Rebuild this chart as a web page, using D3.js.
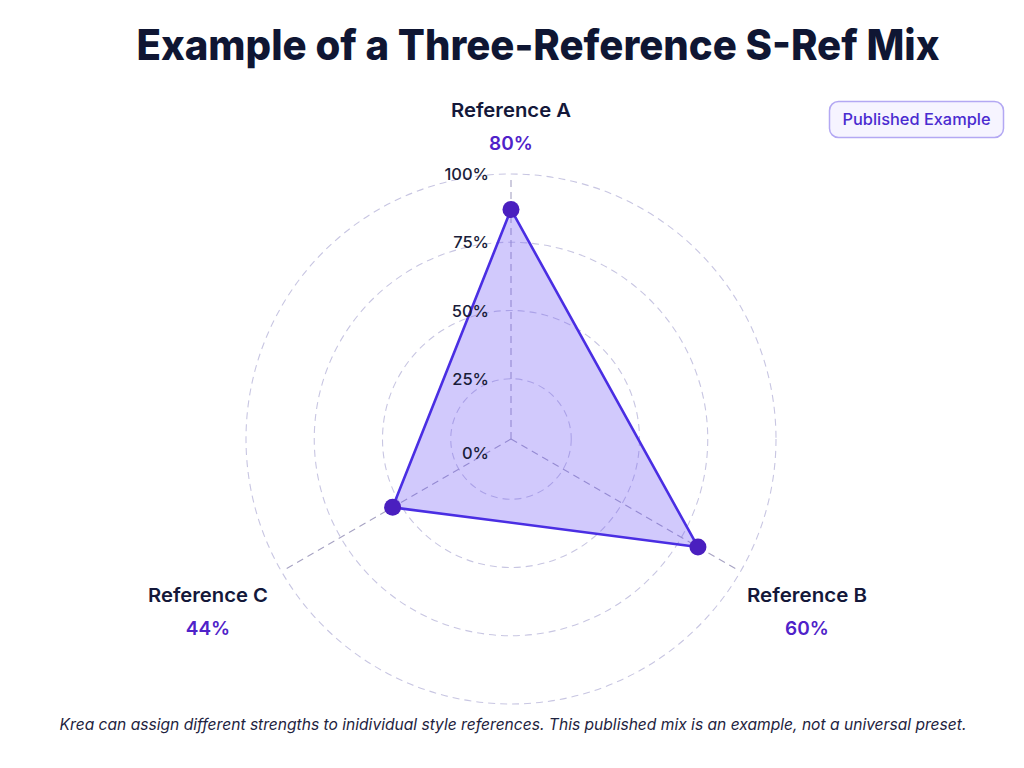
<!DOCTYPE html>
<html>
<head>
<meta charset="utf-8">
<script src="https://cdn.jsdelivr.net/npm/d3@7"></script>
<style>
  html, body { margin: 0; padding: 0; background: #ffffff; }
  svg { display: block; }
</style>
</head>
<body>
<svg id="chart" width="1024" height="768"></svg>
<script>
// ---- data ----
const categories = ["Reference A", "Reference B", "Reference C"];
const displayValues = [80, 60, 44];          // strengths printed under each label
const plottedValues = [87, 82, 53];          // radial positions of the points as drawn
const tickValues = [0, 25, 50, 75, 100];
const tickLabels = ["0%", "25%", "50%", "75%", "100%"];
const titleText = "Example of a Three-Reference S-Ref Mix";
const badgeText = "Published Example";
const footnote = "Krea can assign different strengths to inidividual style references. This published mix is an example, not a universal preset.";

// ---- layout ----
const svg = d3.select("#chart");
const cx = 511, cy = 439;
const rScale = d3.scaleLinear().domain([0, 100]).range([-8, 265]);
const angle = d3.scaleOrdinal().domain(categories).range([0, 2 * Math.PI / 3, 4 * Math.PI / 3]);
const pt = (a, r) => [cx + r * Math.sin(a), cy - r * Math.cos(a)];

const font = "Inter, 'Noto Sans', sans-serif";

// title
svg.append("text")
  .attr("x", 538).attr("y", 60)
  .attr("text-anchor", "middle")
  .attr("font-family", font).attr("font-weight", 800).attr("font-size", 42)
  .attr("fill", "#0f1633")
  .attr("textLength", 803).attr("lengthAdjust", "spacingAndGlyphs")
  .text(titleText);

// badge
const badge = svg.append("g");
badge.append("rect")
  .attr("x", 829.5).attr("y", 101.5).attr("width", 174).attr("height", 36).attr("rx", 9)
  .attr("fill", "#f6f4ff").attr("stroke", "#b3a8f3").attr("stroke-width", 1.5);
badge.append("text")
  .attr("x", 916.5).attr("y", 125)
  .attr("text-anchor", "middle")
  .attr("font-family", font).attr("font-weight", 500).attr("font-size", 16)
  .attr("fill", "#4a2bd0")
  .attr("textLength", 148).attr("lengthAdjust", "spacingAndGlyphs")
  .text(badgeText);

// rings
const grid = svg.append("g");
grid.selectAll("circle.ring")
  .data(tickValues.filter(v => v > 0))
  .join("circle")
  .attr("class", "ring")
  .attr("cx", cx).attr("cy", cy)
  .attr("r", d => rScale(d))
  .attr("fill", "none")
  .attr("stroke", "#c8c6e2").attr("stroke-width", 1.1)
  .attr("stroke-dasharray", "7 5");

// axes
grid.selectAll("line.axis")
  .data(categories)
  .join("line")
  .attr("class", "axis")
  .attr("x1", cx).attr("y1", cy)
  .attr("x2", d => pt(angle(d), rScale(100) - 4)[0])
  .attr("y2", d => pt(angle(d), rScale(100) - 4)[1])
  .attr("stroke", "#a7a3c3").attr("stroke-width", 1.1)
  .attr("stroke-dasharray", "7 5");

// polygon
const polyPts = categories.map((c, i) => pt(angle(c), rScale(plottedValues[i])));
svg.append("path")
  .attr("d", d3.line().curve(d3.curveLinearClosed)(polyPts))
  .attr("fill", "rgba(112, 86, 245, 0.32)")
  .attr("stroke", "#4a2ee3").attr("stroke-width", 2.6)
  .attr("stroke-linejoin", "round");

// tick labels
svg.selectAll("text.tick")
  .data(tickValues)
  .join("text")
  .attr("class", "tick")
  .attr("x", 489)
  .attr("y", d => (d === 0 ? cy + 14 : cy - rScale(d)) + 6)
  .attr("text-anchor", "end")
  .attr("font-family", font).attr("font-weight", 500).attr("font-size", 16.5)
  .attr("fill", "#1a1d3a")
  .text((d, i) => tickLabels[i]);

// points
svg.selectAll("circle.pt")
  .data(polyPts)
  .join("circle")
  .attr("class", "pt")
  .attr("cx", d => d[0]).attr("cy", d => d[1])
  .attr("r", 8.5)
  .attr("fill", "#4a1fbf");

// category labels
const labelPos = [
  { x: 511, y: 117 },
  { x: 807, y: 602 },
  { x: 208, y: 602 }
];
const lab = svg.selectAll("g.lab")
  .data(categories)
  .join("g").attr("class", "lab");
lab.append("text")
  .attr("x", (d, i) => labelPos[i].x).attr("y", (d, i) => labelPos[i].y)
  .attr("text-anchor", "middle")
  .attr("font-family", font).attr("font-weight", 600).attr("font-size", 19)
  .attr("fill", "#14183a")
  .attr("textLength", 120).attr("lengthAdjust", "spacingAndGlyphs")
  .text(d => d);
lab.append("text")
  .attr("x", (d, i) => labelPos[i].x).attr("y", (d, i) => labelPos[i].y + 33)
  .attr("text-anchor", "middle")
  .attr("font-family", font).attr("font-weight", 600).attr("font-size", 19)
  .attr("fill", "#4f22c9")
  .text((d, i) => displayValues[i] + "%");

// footnote
svg.append("text")
  .attr("x", 513).attr("y", 730)
  .attr("text-anchor", "middle")
  .attr("font-family", font).attr("font-style", "italic").attr("font-weight", 400).attr("font-size", 15.6)
  .attr("fill", "#1e2340")
  .text(footnote);
</script>
</body>
</html>
